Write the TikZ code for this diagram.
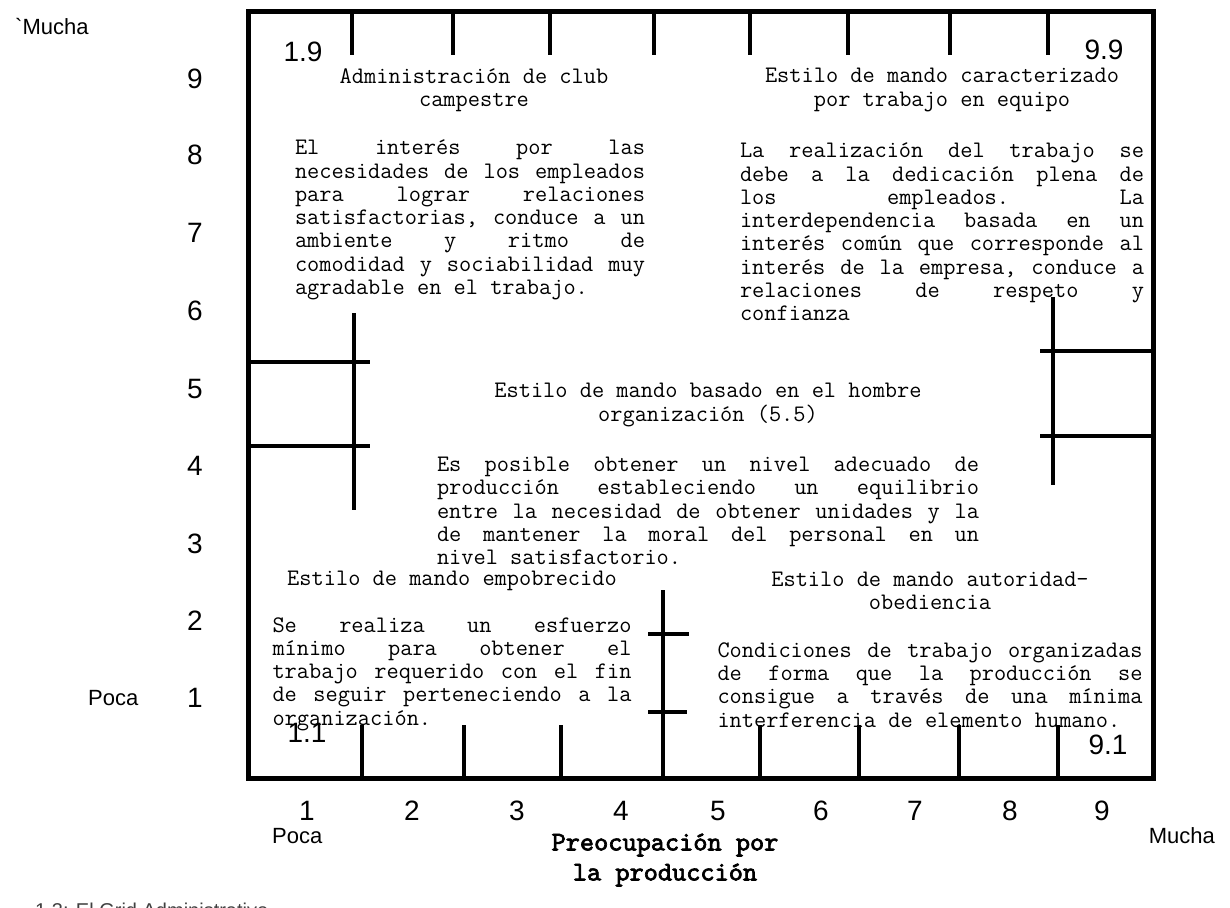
\documentclass[tikz,border=0pt]{standalone}
\usepackage{fontspec}
\setmainfont{Liberation Sans}
\newfontfamily\bmono{lmmono10-regular}[Extension=.otf, FakeBold=2.5]
\newcommand\txt{\fontsize{23.7}{23.3}\selectfont\ttfamily}
\newcommand\jl[2]{\makebox[#1pt][l]{#2}}
\begin{document}
\begin{tikzpicture}[x=1pt,y=-1pt,
  frame/.style={line width=5pt},
  tickln/.style={line width=4pt},
  rung/.style={line width=3.5pt},
  rail/.style={line width=4.5pt},
  body/.style={font=\txt, inner sep=0pt, align=left},
  head/.style={font=\txt, inner sep=0pt, align=center},
  num/.style={font=\fontsize{28}{28}\selectfont, inner sep=0pt},
  lab/.style={font=\fontsize{22}{22}\selectfont, inner sep=0pt},
]
\useasboundingbox (0,0) rectangle (1230,907);
% frame
\draw[frame] (248,12) rectangle (1153,778);
\foreach \x in {352,453,550,654,750,848,950,1048} \draw[tickln] (\x,12) -- (\x,55);
\foreach \x in {362,464,561,760,859,959,1058} \draw[tickln] (\x,778) -- (\x,725);
% left ladder
\coordinate (lt) at (354,313); \coordinate (lb) at (354,510);
\draw[rail] (lt) -- (lb);
\draw[rung] (248,362) -- (370,362);
\draw[rung] (248,446) -- (370,446);
% right ladder
\coordinate (rt) at (1053,297); \coordinate (rb) at (1053,485);
\draw[rail] (rt) -- (rb);
\draw[rung] (1040,351) -- (1153,351);
\draw[rung] (1040,436) -- (1153,436);
% bottom ladder
\coordinate (bt) at (663,590); \coordinate (bb) at (663,778);
\draw[rail] (bt) -- (bb);
\draw[rung] (648,634) -- (689,634);
\draw[rung] (648,712) -- (687,712);
% axis numbers
\foreach \v/\y in {9/79,8/155,7/233,6/311,5/389,4/466,3/544,2/621,1/698}
  \node[num] (y\v) at (195,\y) {\v};
\foreach \v/\x in {1/307,2/412,3/517,4/621,5/718,6/821,7/915,8/1010,9/1102}
  \node[num] (x\v) at (\x,811) {\v};
% corner labels
\node[num] (c19) at (303,52) {1.9};
\node[num] (c99) at (1104,50) {9.9};
\node[num] (c11) at (307,733) {1.1};
\node[num] (c91) at (1108,745) {9.1};
% axis words
\node[lab, anchor=west] (mtop) at (15,27) {\textasciigrave Mucha};
\node[lab, anchor=west] (pleft) at (88,698) {Poca};
\node[lab, anchor=west] (pbot) at (272,836) {Poca};
\node[lab, anchor=east] (mbot) at (1215,836) {Mucha};
\node[font=\fontsize{27}{30}\selectfont\bmono, inner sep=0pt, align=center] (xlab) at (665,860) {Preocupación por\\la producción};
% titles
\node[head] (t19) at (474,90) {Administración de club\\campestre};
\node[head] (t99) at (942,90) {Estilo de mando caracterizado\\por trabajo en equipo};
\node[head] (t55) at (708,405) {Estilo de mando basado en el hombre\\organización (5.5)};
\node[head] (t11) at (452,581) {Estilo de mando empobrecido};
\node[head] (t91) at (930,591) {Estilo de mando autoridad-\\obediencia};
% bodies
\node[body] (b19) at (470,220) {%
\jl{350}{El\hfill interés\hfill por\hfill las}\\
\jl{350}{necesidades\hfill de\hfill los\hfill empleados}\\
\jl{350}{para\hfill lograr\hfill relaciones}\\
\jl{350}{satisfactorias,\hfill conduce\hfill a\hfill un}\\
\jl{350}{ambiente\hfill y\hfill ritmo\hfill de}\\
\jl{350}{comodidad\hfill y\hfill sociabilidad\hfill muy}\\
\jl{350}{agradable en el trabajo.}};
\node[body] (b99) at (942,232) {%
\jl{404}{La\hfill realización\hfill del\hfill trabajo\hfill se}\\
\jl{404}{debe\hfill a\hfill la\hfill dedicación\hfill plena\hfill de}\\
\jl{404}{los\hfill empleados.\hfill La}\\
\jl{404}{interdependencia\hfill basada\hfill en\hfill un}\\
\jl{404}{interés\hfill común\hfill que\hfill corresponde\hfill al}\\
\jl{404}{interés\hfill de\hfill la\hfill empresa,\hfill conduce\hfill a}\\
\jl{404}{relaciones\hfill de\hfill respeto\hfill y}\\
\jl{404}{confianza}};
\node[body] (b55) at (708,511) {%
\jl{542}{Es\hfill posible\hfill obtener\hfill un\hfill nivel\hfill adecuado\hfill de}\\
\jl{542}{producción\hfill estableciendo\hfill un\hfill equilibrio}\\
\jl{542}{entre\hfill la\hfill necesidad\hfill de\hfill obtener\hfill unidades\hfill y\hfill la}\\
\jl{542}{de\hfill mantener\hfill la\hfill moral\hfill del\hfill personal\hfill en\hfill un}\\
\jl{542}{nivel satisfactorio.}};
\node[body] (b11) at (452,674) {%
\jl{359}{Se\hfill realiza\hfill un\hfill esfuerzo}\\
\jl{359}{mínimo\hfill para\hfill obtener\hfill el}\\
\jl{359}{trabajo\hfill requerido\hfill con\hfill el\hfill fin}\\
\jl{359}{de\hfill seguir\hfill perteneciendo\hfill a\hfill la}\\
\jl{359}{organización.}};
\node[body] (b91) at (930,685) {%
\jl{425}{Condiciones\hfill de\hfill trabajo\hfill organizadas}\\
\jl{425}{de\hfill forma\hfill que\hfill la\hfill producción\hfill se}\\
\jl{425}{consigue\hfill a\hfill través\hfill de\hfill una\hfill mínima}\\
\jl{425}{interferencia de elemento humano.}};
% caption (cut off at the lower edge, as in the reference)
\begin{scope}
\clip (0,0) rectangle (1230,907);
\node[font=\fontsize{20}{20}\selectfont, text=black!75, anchor=north west, inner sep=0pt] (cap) at (35,903) {1.3: El Grid Administrativo};
\end{scope}
\end{tikzpicture}
\end{document}
